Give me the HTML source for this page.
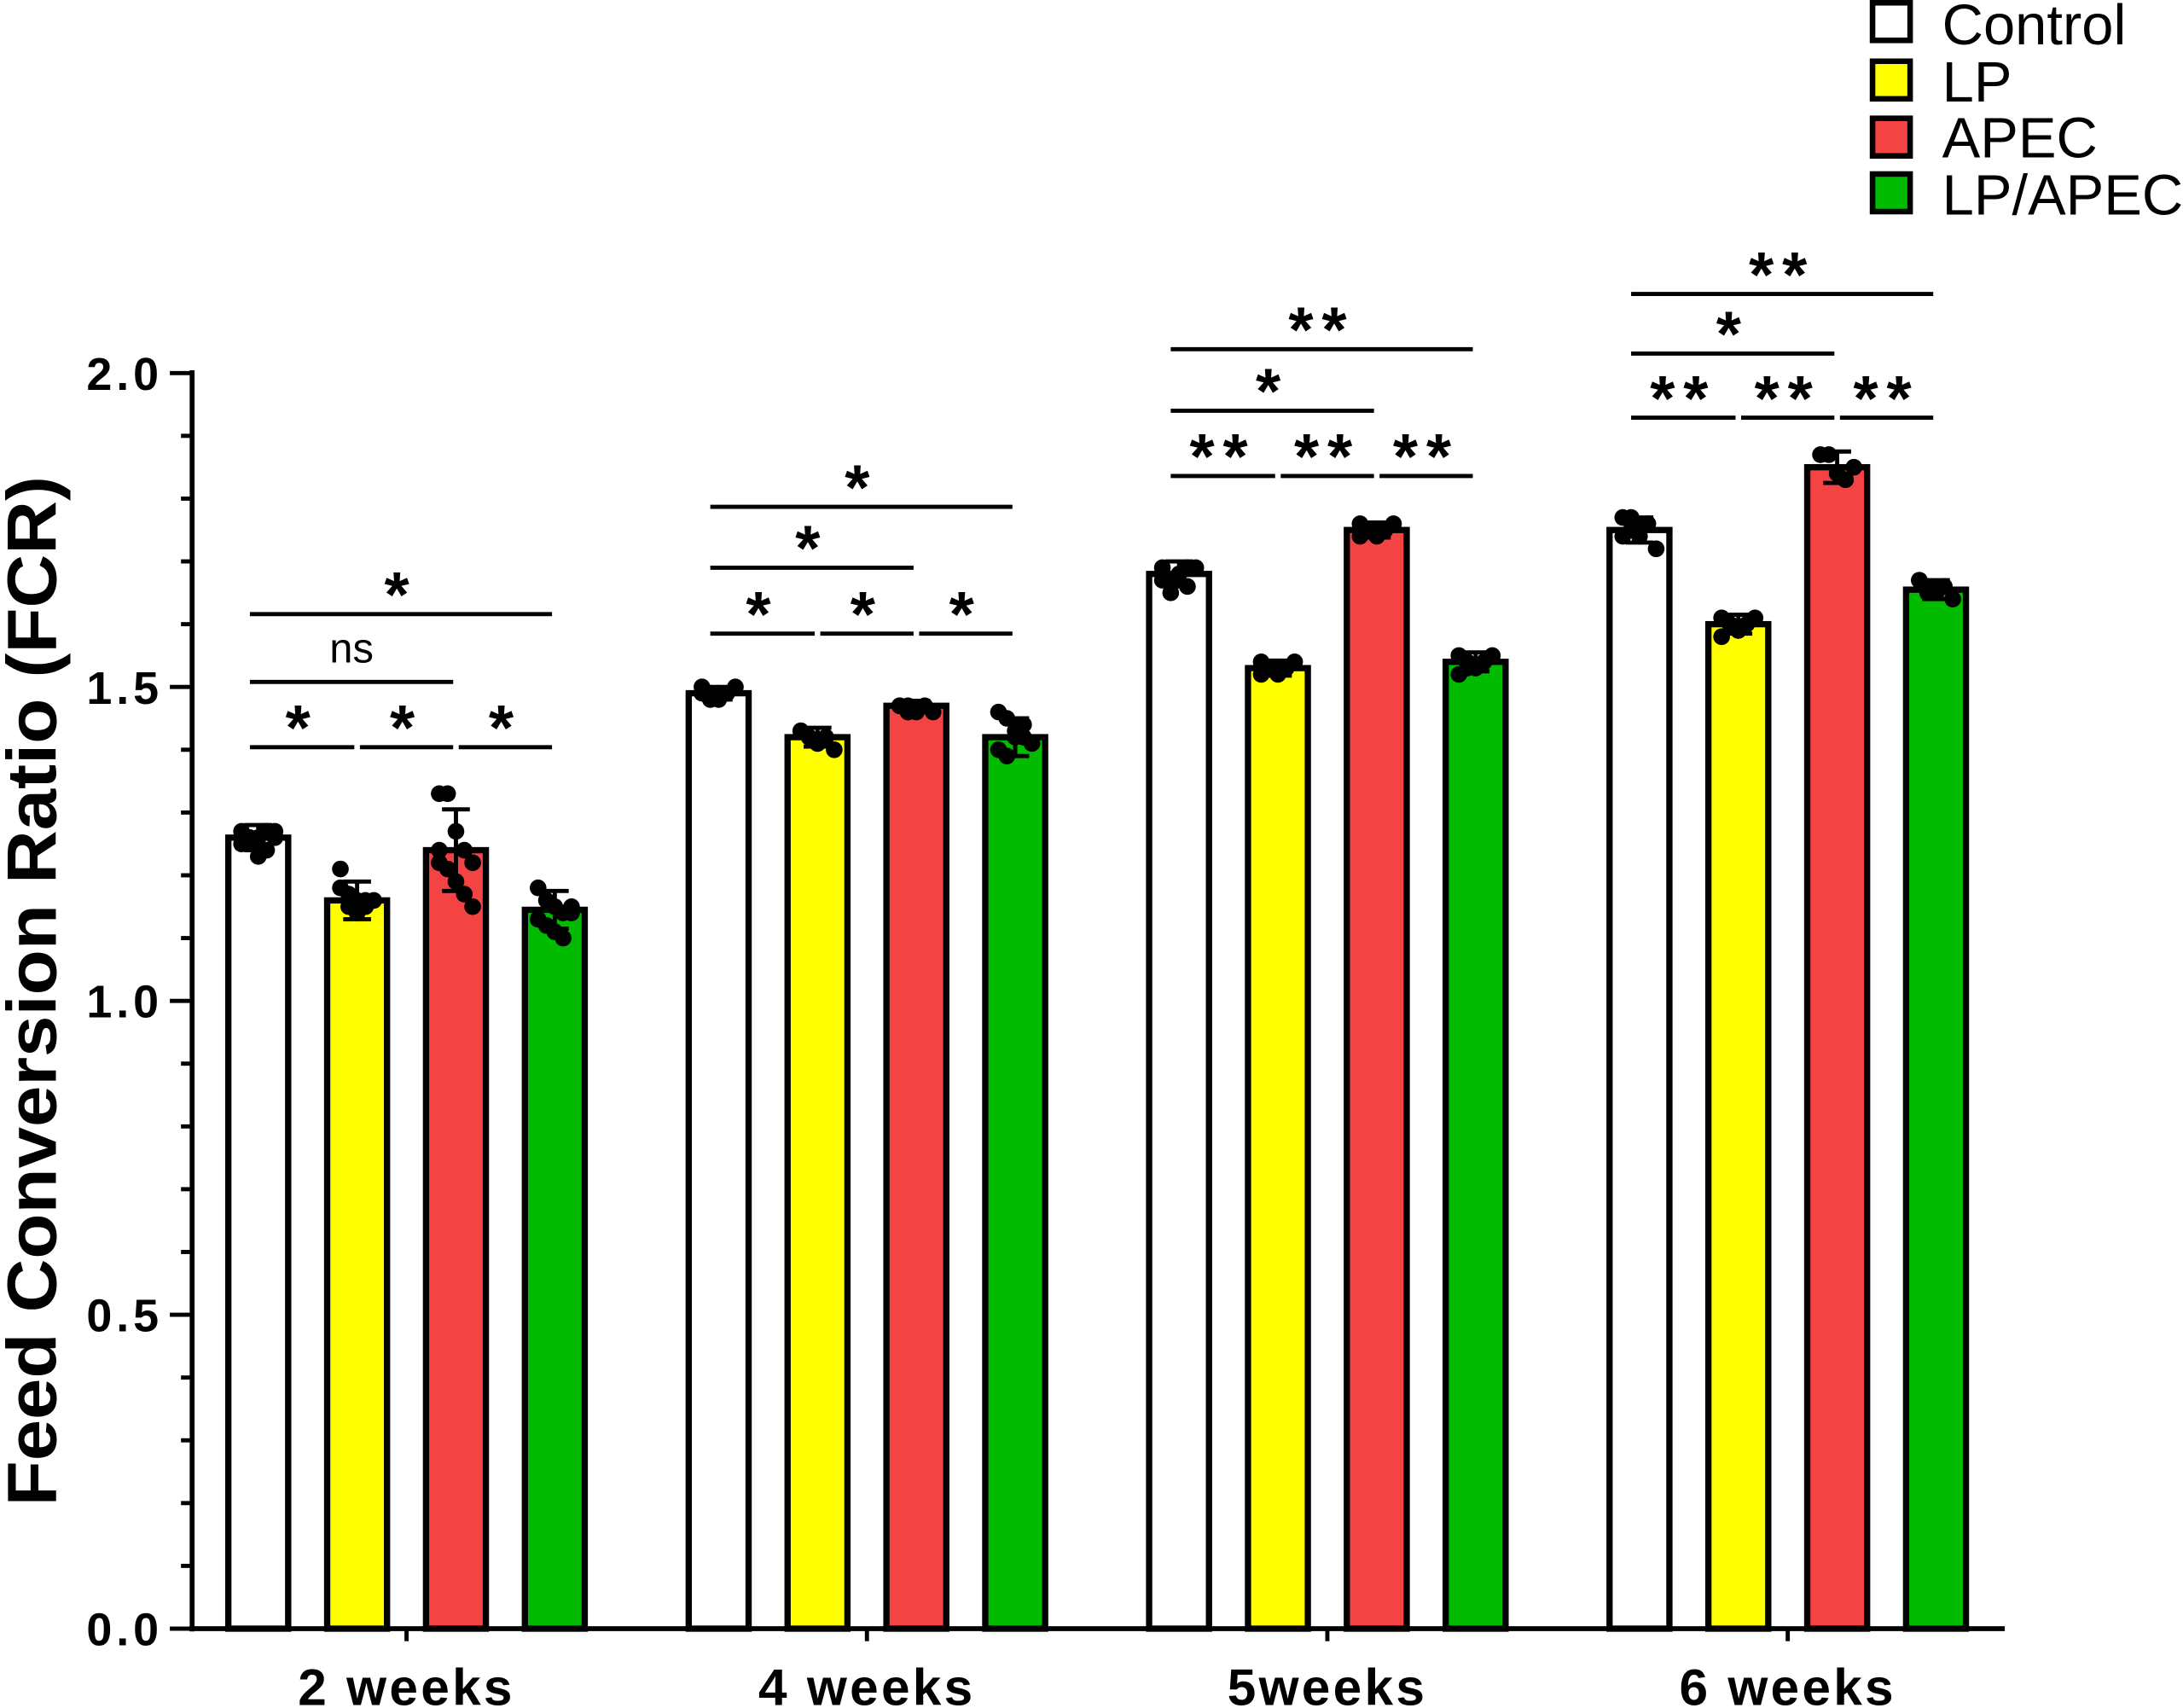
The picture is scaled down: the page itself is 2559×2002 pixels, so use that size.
<!DOCTYPE html>
<html><head><meta charset="utf-8"><style>
html,body{margin:0;padding:0;background:#fff;}
svg{display:block;font-family:"Liberation Sans",Arial,sans-serif;}
</style></head><body>
<svg id="chart" width="2559" height="2002" viewBox="0 0 1568 1227" preserveAspectRatio="none" xmlns="http://www.w3.org/2000/svg">
<g id="legend">
  <g><rect x="1345" y="2" width="27" height="27" fill="#fff" stroke="#000" stroke-width="4"/><text x="1395" y="32" font-size="41">Control</text></g>
  <g><rect x="1345" y="44" width="27" height="27" fill="#ffff00" stroke="#000" stroke-width="4"/><text x="1395" y="73" font-size="41">LP</text></g>
  <g><rect x="1345" y="85" width="27" height="27" fill="#f44343" stroke="#000" stroke-width="4"/><text x="1395" y="113" font-size="41">APEC</text></g>
  <g><rect x="1345" y="125" width="27" height="27" fill="#00bb00" stroke="#000" stroke-width="4"/><text x="1395" y="154" font-size="41">LP/APEC</text></g>
</g>
<text transform="translate(40,712) rotate(-90)" text-anchor="middle" font-size="50" font-weight="bold" textLength="740" lengthAdjust="spacingAndGlyphs">Feed Conversion Ratio (FCR)</text>
<g id="plot"></g>
</svg>
<script>
const categories = ["2 weeks","4 weeks","5weeks","6 weeks"];
const groups = ["Control","LP","APEC","LP/APEC"];
const colors = ["#ffffff","#ffff00","#f44343","#00bb00"];
const controlMeans = [1.26,1.49,1.68,1.75];
const lpMeans = [1.16,1.42,1.53,1.60];
const apecMeans = [1.24,1.47,1.75,1.85];
const lpApecMeans = [1.145,1.42,1.54,1.655];
const controlSD = [0.02,0.01,0.02,0.02];
const lpSD = [0.03,0.015,0.012,0.015];
const apecSD = [0.065,0.008,0.012,0.025];
const lpApecSD = [0.03,0.03,0.015,0.015];
const controlPoints = [[1.27,1.25,1.26,1.24,1.27,1.25,1.26,1.23,1.27,1.26],[1.50,1.49,1.48,1.49,1.50,1.49,1.48,1.49],[1.69,1.67,1.68,1.66,1.69,1.67,1.65,1.68,1.69],[1.77,1.75,1.74,1.76,1.72,1.74,1.77,1.75]];
const lpPoints = [[1.21,1.17,1.16,1.15,1.16,1.18,1.15,1.14,1.16],[1.43,1.42,1.41,1.42,1.40,1.43,1.42,1.41],[1.54,1.53,1.52,1.53,1.54,1.52,1.53],[1.61,1.60,1.59,1.60,1.61,1.58,1.60,1.59]];
const apecPoints = [[1.33,1.33,1.27,1.24,1.22,1.22,1.21,1.19,1.17,1.15,1.24],[1.47,1.47,1.46,1.47,1.46,1.47,1.46],[1.76,1.75,1.74,1.75,1.76,1.74,1.75],[1.87,1.87,1.84,1.83,1.85]];
const lpApecPoints = [[1.18,1.16,1.15,1.14,1.15,1.13,1.12,1.11,1.10,1.14],[1.46,1.45,1.43,1.42,1.41,1.40,1.39,1.42,1.44],[1.55,1.54,1.53,1.54,1.55,1.52,1.53],[1.67,1.66,1.65,1.66,1.64,1.67,1.65]];
const yTicks = [0,0.5,1.0,1.5,2.0];
const yTickLabels = ["0.0","0.5","1.0","1.5","2.0"];
// brackets: [category, fromBar, toBar, levelValue, label]
const brackets = [
 [0,0,1,1.404,"*"],[0,1,2,1.404,"*"],[0,2,3,1.404,"*"],[0,0,2,1.508,"ns"],[0,0,3,1.616,"*"],
 [1,0,1,1.585,"*"],[1,1,2,1.585,"*"],[1,2,3,1.585,"*"],[1,0,2,1.69,"*"],[1,0,3,1.787,"*"],
 [2,0,1,1.836,"**"],[2,1,2,1.836,"**"],[2,2,3,1.836,"**"],[2,0,2,1.94,"*"],[2,0,3,2.038,"**"],
 [3,0,1,1.929,"**"],[3,1,2,1.929,"**"],[3,2,3,1.929,"**"],[3,0,2,2.031,"*"],[3,0,3,2.126,"**"]
];
const means=[controlMeans,lpMeans,apecMeans,lpApecMeans];
const sds=[controlSD,lpSD,apecSD,lpApecSD];
const pts=[controlPoints,lpPoints,apecPoints,lpApecPoints];
const NS="http://www.w3.org/2000/svg";
const plot=document.getElementById('plot');
const X0=138,X1=1440,Y0=1170,YTOP=268;
function y(v){return Y0-(v/2.0)*(Y0-YTOP);}
function gx(c){return 292+c*330.7;}
function bx(c,i){return gx(c)+(i-1.5)*71;}
const BW=43;
function mk(tag,attrs,parent){const e=document.createElementNS(NS,tag);for(const k in attrs)e.setAttribute(k,attrs[k]);(parent||plot).appendChild(e);return e;}
for(let c=0;c<categories.length;c++){
 for(let i=0;i<4;i++){
  const v=means[i][c];
  const r=mk('rect',{x:bx(c,i)-BW/2,y:y(v),width:BW,height:Y0-y(v),fill:colors[i],stroke:'#000','stroke-width':4.5});
  
  
 }
}
for(let c=0;c<categories.length;c++){
 for(let i=0;i<4;i++){
  const cx=bx(c,i);
  const arr=pts[i][c];
  arr.forEach((v,k)=>{
   const off=((k%5)-2)*6;
   const d=mk('circle',{cx:cx+off,cy:y(v),r:6,fill:'#000'});
   
   
  });
  const m=means[i][c],s=sds[i][c];
  const e=mk('path',{d:`M${cx},${y(m+s)}V${y(m-s)}M${cx-10},${y(m+s)}H${cx+10}M${cx-10},${y(m-s)}H${cx+10}`,stroke:'#000','stroke-width':3,fill:'none'});
  
  
 }
}
const ya=mk('line',{x1:X0,y1:YTOP-2,x2:X0,y2:Y0+2,stroke:'#000','stroke-width':3.5});


const xa=mk('line',{x1:X0-2,y1:Y0,x2:X1,y2:Y0,stroke:'#000','stroke-width':3.5});


for(let t=0;t<=20;t++){
 const v=t/10, major=(t%5===0);
 mk('line',{x1:major?122:130,y1:y(v),x2:X0,y2:y(v),stroke:'#000','stroke-width':3});
}
yTicks.forEach((v,k)=>{
 const t=mk('text',{x:117,y:y(v)+12,'text-anchor':'end','font-size':33,'font-weight':'bold','letter-spacing':3});
 t.textContent=yTickLabels[k];
 
 
});
categories.forEach((n,c)=>{
 mk('line',{x1:gx(c),y1:Y0,x2:gx(c),y2:Y0+9,stroke:'#000','stroke-width':3});
 const t=mk('text',{x:gx(c),y:1225,'text-anchor':'middle','font-size':37,'font-weight':'bold','letter-spacing':2});
 t.textContent=n;
 
 
});
brackets.forEach(b=>{
 const [c,a,z,lv,lab]=b;
 let x1=bx(c,a)-6,x2=bx(c,z)-2;
 if(a>0)x1=bx(c,a)+2;
 const ly=y(lv);
 const l=mk('line',{x1:x1,y1:ly,x2:x2,y2:ly,stroke:'#000','stroke-width':3});
 
 
 const isNs=lab==='ns';
 const t=mk('text',{x:(x1+x2)/2,y:isNs?ly-14:ly+2,'text-anchor':'middle','font-size':isNs?30:46,'font-weight':isNs?'normal':'bold','letter-spacing':isNs?0:6});
 t.textContent=lab;
 
 
});
</script>
</body></html>
